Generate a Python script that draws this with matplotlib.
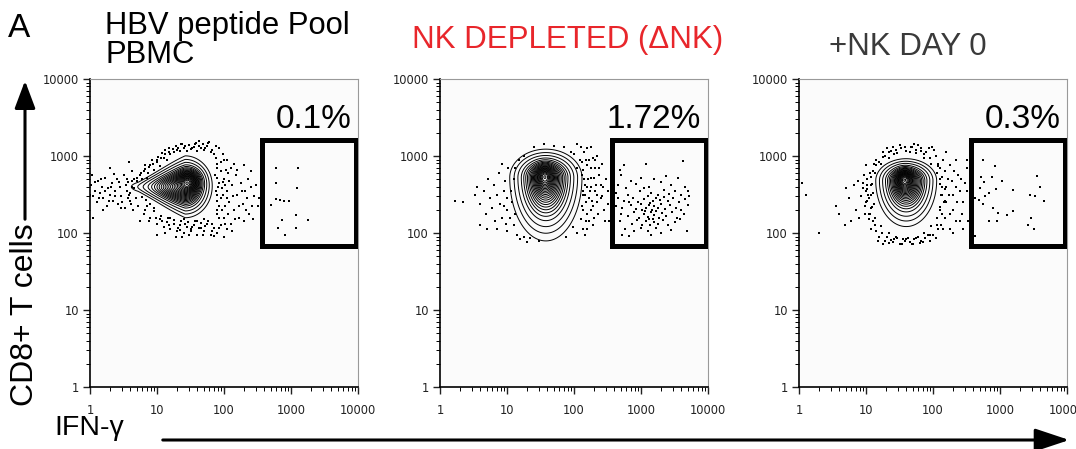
import numpy as np
import matplotlib.pyplot as plt
from matplotlib.patches import FancyArrowPatch, Rectangle
from matplotlib.ticker import FixedLocator, LogLocator, NullFormatter

# ---- data (log10 units of fluorescence) ----
panel_titles = ["HBV peptide Pool\nPBMC", "NK DEPLETED (\u0394NK)", "+NK DAY 0"]
gate_pcts = ["0.1%", "1.72%", "0.3%"]
gate_x = [370, 9300]     # IFN-gamma gate
gate_y = [68, 1600]      # CD8 gate
tick_vals = [1, 10, 100, 1000, 10000]
tick_labels = ["1", "10", "100", "1000", "10000"]

# population shape: (x, y, sx_left, sx_right, sy_down, sy_up, weight, taper), log10 units
pbmc_pop = [(1.42, 2.60, 0.28, 0.14, 0.14, 0.14, 1.0, 0.28),
            (1.48, 2.68, 0.10, 0.10, 0.08, 0.08, 0.5, 0.0)]
nkdep_pop = [(1.58, 2.72, 0.19, 0.19, 0.29, 0.13, 1.0, 0.0),
             (1.56, 2.74, 0.08, 0.08, 0.12, 0.08, 0.5, 0.0)]
nkday0_pop = [(1.60, 2.68, 0.16, 0.16, 0.21, 0.10, 1.0, 0.0),
              (1.57, 2.70, 0.07, 0.07, 0.10, 0.07, 0.5, 0.0)]

pbmc_dots = [
    (0.02, 2.62), (0.05, 2.48), (0.03, 2.75), (0.08, 2.55), (0.10, 2.40), (0.12, 2.68),
    (0.15, 2.52), (0.18, 2.60), (0.20, 2.45), (0.22, 2.72), (0.25, 2.35), (0.27, 2.58),
    (0.30, 2.50), (0.33, 2.65), (0.35, 2.42), (0.38, 2.55), (0.40, 2.70), (0.42, 2.38),
    (0.45, 2.60), (0.47, 2.48), (0.50, 2.75), (0.52, 2.33), (0.55, 2.55), (0.57, 2.66),
    (0.60, 2.42), (0.62, 2.80), (0.64, 2.30), (0.58, 2.92), (0.05, 2.20), (0.30, 2.85),
    (0.00, 2.50), (0.07, 2.66), (0.13, 2.45), (0.17, 2.70), (0.23, 2.55), (0.28, 2.42),
    (0.32, 2.60), (0.37, 2.48), (0.43, 2.66), (0.48, 2.40), (0.53, 2.62), (0.58, 2.50),
    (0.63, 2.68), (0.61, 2.38), (0.46, 2.32), (0.36, 2.77), (0.20, 2.30),
    (0.68, 2.45), (0.70, 2.68), (0.72, 2.35), (0.75, 2.75), (0.66, 2.58),
    (0.60, 2.52), (0.62, 2.60), (0.56, 2.45), (0.65, 2.70), (0.55, 2.70),
    (0.80, 2.80), (0.85, 2.72), (0.90, 2.88), (0.95, 2.82), (1.00, 2.92), (1.05, 2.87),
    (1.10, 2.98), (1.15, 2.95), (1.20, 3.02), (1.25, 3.05), (1.30, 3.08), (1.35, 3.06),
    (1.40, 3.10), (1.45, 3.07), (1.50, 3.09), (1.55, 3.12), (1.60, 3.06), (1.65, 3.10),
    (1.70, 3.08), (1.75, 3.13), (1.80, 3.05), (1.85, 3.02), (1.12, 3.08), (1.92, 3.10),
    (1.78, 3.18), (0.82, 2.88), (0.92, 2.95), (1.02, 2.99), (1.08, 3.04), (1.18, 3.10),
    (1.28, 3.13), (1.38, 3.15), (1.48, 3.14), (1.58, 3.17), (1.68, 3.15), (1.88, 3.13),
    (1.98, 3.02), (0.87, 2.78), (0.78, 2.70), (1.62, 3.20),
    (0.70, 2.72), (0.76, 2.78), (0.82, 2.83), (0.88, 2.86), (0.94, 2.90), (1.00, 2.95),
    (1.06, 2.98), (1.12, 3.02), (1.18, 3.05), (1.24, 3.09), (1.32, 3.11), (1.42, 3.13),
    (1.52, 3.11), (1.62, 3.13), (1.72, 3.11), (1.82, 3.08), (1.36, 3.16), (1.56, 3.16),
    (1.76, 3.17),
    (0.80, 2.25), (0.85, 2.35), (0.90, 2.20), (0.95, 2.28), (1.00, 2.12), (1.05, 2.18),
    (1.10, 2.08), (1.15, 2.14), (1.20, 2.05), (1.25, 2.12), (1.30, 2.02), (1.35, 2.10),
    (1.40, 2.00), (1.45, 2.08), (1.50, 2.03), (1.55, 2.11), (1.60, 1.98), (1.65, 2.07),
    (1.70, 2.02), (1.75, 2.12), (1.80, 1.97), (1.85, 2.06), (1.90, 2.00), (1.95, 2.10),
    (2.00, 1.95), (2.05, 2.05), (0.75, 2.15), (1.00, 1.98), (1.28, 1.95),
    (0.82, 2.30), (0.88, 2.15), (0.98, 2.20), (1.08, 2.15), (1.18, 2.10), (1.32, 2.06),
    (1.42, 2.12), (1.52, 2.08), (1.62, 2.06), (1.72, 2.09), (1.82, 2.03), (1.92, 2.06),
    (2.02, 2.12), (1.12, 2.00), (1.48, 1.98), (1.68, 1.97), (1.38, 1.95), (1.85, 1.96),
    (2.12, 2.02),
    (1.82, 2.12), (1.76, 2.15), (1.66, 2.13), (1.56, 2.15), (1.46, 2.14), (1.36, 2.15),
    (1.26, 2.17), (1.16, 2.19), (1.06, 2.22), (0.96, 2.32), (0.90, 2.38), (0.84, 2.43),
    (0.78, 2.47), (1.60, 2.16), (1.40, 2.18), (1.20, 2.20), (1.70, 2.18), (1.50, 2.05),
    (1.34, 2.04),
    (1.90, 2.90), (1.95, 2.80), (2.00, 2.95), (1.92, 2.65), (2.00, 2.70), (2.05, 2.55),
    (1.95, 2.45), (2.10, 2.85), (2.08, 2.40), (2.12, 2.62), (2.15, 2.30), (2.18, 2.75),
    (2.20, 2.50), (2.22, 2.20), (2.25, 2.65), (2.28, 2.38), (2.30, 2.15), (2.32, 2.55),
    (2.35, 2.45), (2.38, 2.25), (2.40, 2.60), (2.45, 2.48), (2.50, 2.35), (2.55, 2.55),
    (1.90, 2.30), (2.00, 2.20), (2.10, 2.12), (1.88, 2.55), (2.02, 2.35), (2.15, 2.90),
    (1.86, 2.75), (1.90, 2.42), (1.93, 2.20), (1.97, 2.58), (2.03, 2.82), (2.06, 2.25),
    (2.08, 2.68), (2.14, 2.48), (2.17, 2.18), (2.20, 2.82), (2.23, 2.35), (2.27, 2.55),
    (2.33, 2.30), (2.36, 2.70), (2.42, 2.35), (2.48, 2.62), (2.44, 2.18), (2.30, 2.88),
    (2.52, 2.45), (2.05, 2.95), (2.40, 2.80),
    (1.88, 2.98), (1.90, 2.85), (1.89, 2.72), (1.91, 2.60), (1.90, 2.50), (1.92, 2.35),
    (1.89, 2.25), (1.96, 2.92), (1.98, 2.66), (1.99, 2.50), (1.97, 2.30), (2.02, 2.62),
    (2.04, 2.45), (2.06, 2.78),
    # gate
    (2.78, 2.85), (3.11, 2.84), (2.78, 2.65), (3.09, 2.58), (2.78, 2.44), (2.83, 2.43),
    (2.89, 2.42), (2.97, 2.41), (2.70, 2.36), (2.86, 2.17), (3.07, 2.23), (3.26, 2.17),
    (2.80, 2.06), (3.07, 2.07), (2.91, 1.97),
]

nkdep_dots = [
    (0.22, 2.42), (0.35, 2.40), (0.52, 2.50), (0.55, 2.60), (0.60, 2.38), (0.65, 2.55),
    (0.68, 2.25), (0.72, 2.70), (0.75, 2.45), (0.78, 2.32), (0.80, 2.62), (0.82, 2.15),
    (0.85, 2.50), (0.88, 2.78), (0.90, 2.38), (0.92, 2.20), (0.95, 2.55), (0.97, 2.68),
    (1.00, 2.30), (0.98, 2.12), (0.85, 2.05), (0.93, 2.90), (1.02, 2.85), (1.00, 2.02),
    (0.70, 2.05), (0.60, 2.10),
    (1.15, 1.98), (1.20, 1.92), (1.25, 1.95), (1.10, 2.10), (1.05, 2.20),
    (1.40, 3.12), (1.55, 3.15), (1.25, 3.00), (1.70, 3.13), (1.35, 1.93), (1.48, 1.90),
    (1.10, 2.70), (1.06, 2.55), (1.08, 2.40), (1.12, 2.25), (1.18, 2.95), (1.12, 2.85),
    (1.00, 2.45), (0.95, 2.35), (1.30, 1.88), (1.88, 1.95), (1.95, 3.05), (1.85, 3.12),
    (2.05, 3.15), (2.25, 3.12), (2.12, 2.92), (2.00, 3.02),
    (2.15, 3.05), (2.18, 2.95), (2.20, 3.10), (2.25, 2.85), (2.28, 2.98), (2.15, 2.70),
    (2.20, 2.60), (2.22, 2.45), (2.25, 2.30), (2.18, 2.15), (2.20, 2.05), (2.30, 2.72),
    (2.32, 2.55), (2.35, 2.40), (2.30, 2.20), (2.38, 2.85), (2.40, 2.62), (2.42, 2.48),
    (2.45, 2.30), (2.48, 2.70), (2.50, 2.55), (2.52, 2.15), (2.12, 2.35), (2.14, 2.50),
    (2.16, 1.98), (2.28, 2.10), (2.35, 3.00), (2.10, 3.12),
    (2.14, 2.82), (2.16, 2.62), (2.18, 2.40), (2.20, 2.25), (2.24, 2.55), (2.26, 2.72),
    (2.22, 2.95), (2.33, 2.62), (2.36, 2.25), (2.40, 2.45), (2.44, 2.60), (2.27, 2.42),
    (2.31, 2.85), (2.46, 2.15), (2.50, 2.38), (1.98, 2.08), (2.05, 2.00),
    (2.12, 2.75), (2.13, 2.55), (2.14, 2.30), (2.17, 2.50), (2.19, 2.88), (2.21, 2.70),
    (2.23, 2.15), (2.26, 2.60), (2.29, 2.35), (2.34, 2.50), (2.37, 2.75), (2.11, 2.18),
    (2.13, 2.05), (2.09, 2.95), (2.32, 2.95), (2.05, 2.85), (2.42, 2.90),
    # gate
    (2.75, 2.88), (3.08, 2.90), (3.62, 2.93), (2.68, 2.82),
    (2.70, 2.75), (3.00, 2.72), (3.20, 2.70), (3.38, 2.74), (3.55, 2.72), (2.85, 2.68),
    (2.66, 2.62), (2.92, 2.64), (3.12, 2.60), (3.30, 2.66), (3.45, 2.62), (3.65, 2.60),
    (2.78, 2.58),
    (2.62, 2.52), (2.80, 2.50), (2.98, 2.55), (3.15, 2.52), (3.25, 2.50), (3.35, 2.56),
    (3.42, 2.51), (3.50, 2.54), (3.60, 2.50), (3.70, 2.55), (3.05, 2.58),
    (2.65, 2.45), (2.75, 2.42), (2.88, 2.46), (2.95, 2.40), (3.05, 2.44), (3.10, 2.48),
    (3.18, 2.41), (3.22, 2.46), (3.28, 2.43), (3.34, 2.47), (3.40, 2.42), (3.48, 2.45),
    (3.56, 2.40), (3.66, 2.44), (3.72, 2.48), (2.82, 2.40),
    (2.63, 2.35), (2.72, 2.32), (2.85, 2.36), (2.92, 2.31), (3.00, 2.38), (3.08, 2.33),
    (3.12, 2.37), (3.16, 2.30), (3.20, 2.35), (3.25, 2.32), (3.30, 2.38), (3.36, 2.31),
    (3.44, 2.36), (3.52, 2.33), (3.60, 2.30), (3.70, 2.36), (3.02, 2.30), (3.14, 2.39),
    (2.70, 2.25), (2.80, 2.22), (2.90, 2.27), (2.97, 2.20), (3.04, 2.25), (3.10, 2.21),
    (3.15, 2.27), (3.19, 2.23), (3.23, 2.28), (3.27, 2.20), (3.32, 2.26), (3.38, 2.22),
    (3.46, 2.27), (3.54, 2.20), (3.64, 2.25), (3.06, 2.28), (3.12, 2.18),
    (2.68, 2.15), (2.86, 2.12), (2.94, 2.17), (3.02, 2.11), (3.08, 2.16), (3.13, 2.10),
    (3.20, 2.14), (3.26, 2.12), (3.33, 2.17), (3.40, 2.10), (3.50, 2.14), (3.58, 2.18),
    (3.18, 2.18),
    (2.76, 2.05), (2.90, 2.02), (3.00, 2.07), (3.10, 2.03), (3.22, 2.06), (3.30, 2.00),
    (3.45, 2.04), (3.68, 2.02), (2.72, 1.97), (2.82, 1.96), (3.15, 1.97),
]

nkday0_dots = [
    (0.05, 2.65), (0.10, 2.50), (0.55, 2.35), (0.60, 2.25), (0.70, 2.58), (0.75, 2.45),
    (0.68, 2.10), (0.82, 2.62), (0.85, 2.30), (0.88, 2.68), (0.90, 2.20), (0.92, 2.48),
    (0.30, 2.00), (0.78, 2.15), (0.95, 2.58),
    (0.98, 2.35), (1.00, 2.55), (1.02, 2.70), (1.05, 2.25), (1.05, 2.45), (1.08, 2.62),
    (1.10, 2.80), (1.10, 2.15), (1.12, 2.38), (0.97, 2.75), (1.07, 2.05), (1.00, 2.88),
    (1.00, 2.40), (1.02, 2.62), (1.04, 2.18), (1.06, 2.78), (1.08, 2.32), (1.10, 2.52),
    (1.12, 2.90), (1.14, 2.10), (1.03, 2.50), (0.99, 2.25), (0.95, 2.65),
    (1.20, 2.92), (1.28, 3.00), (1.35, 3.05), (1.45, 3.08), (1.52, 3.10), (1.60, 3.07),
    (1.68, 3.12), (1.75, 3.08), (1.82, 3.10), (1.90, 3.05), (1.98, 3.12), (2.05, 3.00),
    (1.40, 3.12), (1.72, 3.15), (1.15, 2.95), (1.25, 3.05), (1.32, 3.10), (1.42, 3.03),
    (1.50, 3.14), (1.58, 3.12), (1.65, 3.05), (1.78, 3.14), (1.86, 3.02), (1.94, 3.10),
    (2.02, 3.08),
    (1.20, 1.95), (1.28, 1.90), (1.35, 1.87), (1.42, 1.92), (1.50, 1.86), (1.58, 1.90),
    (1.65, 1.88), (1.72, 1.92), (1.80, 1.87), (1.88, 1.93), (1.95, 1.90), (1.15, 2.02),
    (2.00, 1.98), (1.32, 1.95), (1.62, 1.94), (1.18, 1.90), (1.25, 1.86), (1.40, 1.88),
    (1.45, 1.95), (1.55, 1.92), (1.70, 1.86), (1.77, 1.95), (1.85, 1.88), (1.92, 1.97),
    (2.05, 1.93),
    (2.13, 2.49), (2.11, 2.64), (2.06, 2.78), (1.97, 2.89), (1.87, 2.98), (1.74, 3.04),
    (1.60, 3.06), (1.46, 3.04), (1.34, 2.98), (1.23, 2.89), (1.14, 2.78), (1.09, 2.64),
    (1.07, 2.49), (1.09, 2.34), (1.14, 2.20), (1.23, 2.09), (1.34, 2.00), (1.46, 1.94),
    (1.60, 1.92), (1.74, 1.94), (1.87, 2.00), (1.97, 2.09), (2.06, 2.20), (2.11, 2.34),
    (2.18, 2.57), (2.14, 2.73), (2.07, 2.87), (1.96, 2.98), (1.82, 3.07), (1.67, 3.12),
    (1.52, 3.11), (1.38, 3.06), (1.26, 2.99), (1.15, 2.88), (1.07, 2.73), (1.02, 2.57),
    (1.02, 2.41), (1.06, 2.25), (1.13, 2.11), (1.24, 2.00), (1.38, 1.91), (1.53, 1.86),
    (1.68, 1.86), (1.82, 1.90), (1.95, 1.98), (2.06, 2.10), (2.14, 2.25), (2.18, 2.41),
    (2.08, 2.90), (2.10, 2.70), (2.12, 2.50), (2.10, 2.30), (2.12, 2.10), (2.15, 2.95),
    (2.18, 2.80), (2.20, 2.60), (2.20, 2.40), (2.18, 2.20), (2.25, 2.05), (2.25, 2.88),
    (2.28, 2.68), (2.30, 2.50), (2.30, 2.30), (2.35, 2.95), (2.38, 2.75), (2.40, 2.55),
    (2.40, 2.15), (2.45, 2.40), (2.48, 2.65), (2.50, 2.85), (2.55, 2.50), (2.58, 2.30),
    (2.60, 2.70), (2.62, 2.45), (2.30, 2.00), (2.45, 2.05), (2.20, 3.05), (2.08, 2.05),
    (2.10, 2.85), (2.14, 2.60), (2.16, 2.40), (2.15, 2.05), (2.22, 2.70), (2.24, 2.50),
    (2.26, 2.25), (2.32, 2.80), (2.34, 2.60), (2.36, 2.40), (2.35, 2.15), (2.42, 2.70),
    (2.44, 2.25), (2.50, 2.55), (2.52, 2.15), (2.56, 2.75), (2.58, 2.60), (2.60, 2.20),
    (2.50, 2.95),
    # gate
    (2.75, 2.95), (2.93, 2.87), (2.88, 2.73), (3.03, 2.67), (2.94, 2.57), (3.19, 2.56),
    (3.55, 2.74), (3.60, 2.60), (3.45, 2.49), (3.52, 2.48), (3.65, 2.42), (3.47, 2.19),
    (3.42, 2.10), (3.50, 2.05), (2.83, 2.52), (2.90, 2.32), (2.97, 2.26), (3.10, 2.23),
    (3.20, 2.29), (2.83, 2.15), (2.95, 2.15), (2.68, 2.43), (2.72, 2.73), (2.76, 2.66),
    (2.70, 2.58), (2.78, 2.48), (2.74, 2.38), (2.63, 1.96),
]

# ---- figure ----
plt.rcParams['font.family'] = ['Liberation Sans', 'DejaVu Sans']
fig = plt.figure(figsize=(10.76, 4.49), dpi=100)

W, H = 1076, 449
lefts = [90, 440, 799]
pops = [pbmc_pop, nkdep_pop, nkday0_pop]
dots = [pbmc_dots, nkdep_dots, nkday0_dots]

gx = np.linspace(-0.2, 4.2, 440)
gy = np.linspace(-0.2, 4.2, 440)
GX, GY = np.meshgrid(gx, gy)
frac = np.concatenate([[0.012, 0.03], np.linspace(0.06, 0.99, 22)])


def population(p):
    mx, my, sxl, sxr, syd, syu, w, taper = p
    dx = GX - mx
    u = np.where(dx < 0, dx / sxl, dx / sxr)
    # narrower in y towards the left tip
    shrink = np.clip(1 + taper * np.minimum(u, 0), 0.3, 1)
    dy = GY - my
    v = np.where(dy < 0, dy / syd, dy / syu) / shrink
    return w * np.exp(-0.5 * (u ** 2 + v ** 2))


for i in range(3):
    ax = fig.add_axes([lefts[i] / W, (H - 387) / H, 268 / W, 308 / H])
    ax.set_facecolor('#fbfbfb')
    ax.set_xscale('log')
    ax.set_yscale('log')
    ax.set_xlim(1, 10000)
    ax.set_ylim(1, 10000)

    dens = sum(population(p) for p in pops[i])
    ax.contour(10 ** GX, 10 ** GY, dens, levels=frac * dens.max(),
               colors='black', linewidths=0.7)

    d = np.array(dots[i])
    ax.scatter(10 ** d[:, 0], 10 ** d[:, 1], s=4.2, marker='s', c='black', linewidths=0)

    ax.add_patch(Rectangle((gate_x[0], gate_y[0]), gate_x[1] - gate_x[0],
                           gate_y[1] - gate_y[0], fill=False, lw=3.6,
                           edgecolor='black', zorder=5))
    ax.text(0.975, 0.84, gate_pcts[i], transform=ax.transAxes, ha='right',
            va='baseline', fontsize=24)

    for s in ['top', 'right']:
        ax.spines[s].set_color('#999999')
        ax.spines[s].set_linewidth(0.8)
    for s in ['left', 'bottom']:
        ax.spines[s].set_linewidth(1.2)
    ax.xaxis.set_major_locator(FixedLocator(tick_vals))
    ax.yaxis.set_major_locator(FixedLocator(tick_vals))
    ax.set_xticklabels(tick_labels, fontfamily='DejaVu Sans')
    ax.set_yticklabels(tick_labels, fontfamily='DejaVu Sans')
    for axis in (ax.xaxis, ax.yaxis):
        axis.set_minor_locator(LogLocator(base=10, subs=np.arange(2, 10)))
        axis.set_minor_formatter(NullFormatter())
    ax.tick_params(which='major', direction='out', length=5, width=1.0,
                   labelsize=8.3, colors='#222222')
    ax.tick_params(axis='x', which='major', pad=7)
    ax.tick_params(axis='y', which='major', pad=3)
    ax.tick_params(which='minor', direction='out', length=3, width=0.7)

# titles
fig.text(8 / W, 1 - 37 / H, "A", fontsize=24, va='baseline')
fig.text(105 / W, 1 - 34 / H, "HBV peptide Pool", fontsize=22.3, va='baseline')
fig.text(105 / W, 1 - 63 / H, "PBMC", fontsize=22.3, va='baseline')
fig.text(568 / W, 1 - 48 / H, panel_titles[1], fontsize=22.5, va='baseline',
         ha='center', color='#e8262b')
fig.text(908 / W, 1 - 55 / H, panel_titles[2], fontsize=22.5, va='baseline',
         ha='center', color='#3a3a3a')

# axis labels with arrows
fig.text(25 / W, 1 - 315 / H, "CD8+ T cells", fontsize=23, rotation=90,
         ha='center', va='center')
fig.add_artist(FancyArrowPatch(
    (25 / W, 1 - 222 / H), (25 / W, 1 - 78 / H), transform=fig.transFigure,
    arrowstyle='-|>,head_length=1.2,head_width=0.45', mutation_scale=14,
    lw=2.2, color='black'))
fig.text(89 / W, 1 - 428 / H, "IFN-\u03b3", fontsize=20.5, ha='center', va='center')
fig.add_artist(FancyArrowPatch(
    (160 / W, 1 - 440 / H), (1072 / W, 1 - 440 / H), transform=fig.transFigure,
    arrowstyle='-|>,head_length=1.5,head_width=0.5', mutation_scale=14,
    lw=2.2, color='black'))

fig.savefig('out.png', dpi=100)
